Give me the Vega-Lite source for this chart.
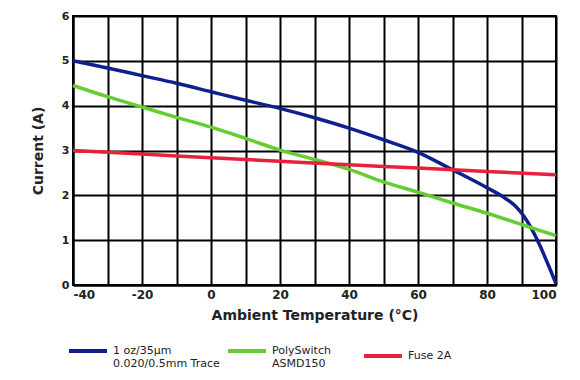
{
  "$schema": "https://vega.github.io/schema/vega-lite/v6.json",
  "width": 483,
  "height": 269,
  "autosize": {"type": "none"},
  "padding": {"left": 73, "top": 16, "right": 24, "bottom": 95},
  "background": "white",
  "config": {
    "font": "DejaVu Sans",
    "view": {"stroke": "black", "strokeWidth": 2}
  },
  "data": {
    "values": [
      {"t": -40, "c": 5.0, "s": "trace"},
      {"t": -30, "c": 4.84, "s": "trace"},
      {"t": -20, "c": 4.67, "s": "trace"},
      {"t": -10, "c": 4.5, "s": "trace"},
      {"t": 0, "c": 4.31, "s": "trace"},
      {"t": 10, "c": 4.12, "s": "trace"},
      {"t": 20, "c": 3.94, "s": "trace"},
      {"t": 30, "c": 3.73, "s": "trace"},
      {"t": 40, "c": 3.5, "s": "trace"},
      {"t": 50, "c": 3.24, "s": "trace"},
      {"t": 60, "c": 2.96, "s": "trace"},
      {"t": 70, "c": 2.57, "s": "trace"},
      {"t": 80, "c": 2.17, "s": "trace"},
      {"t": 85, "c": 1.95, "s": "trace"},
      {"t": 89, "c": 1.7, "s": "trace"},
      {"t": 91, "c": 1.5, "s": "trace"},
      {"t": 100, "c": 0.03, "s": "trace"},
      {"t": -40, "c": 4.45, "s": "poly"},
      {"t": -30, "c": 4.2, "s": "poly"},
      {"t": -20, "c": 3.97, "s": "poly"},
      {"t": -10, "c": 3.74, "s": "poly"},
      {"t": 0, "c": 3.52, "s": "poly"},
      {"t": 10, "c": 3.27, "s": "poly"},
      {"t": 20, "c": 3.01, "s": "poly"},
      {"t": 30, "c": 2.8, "s": "poly"},
      {"t": 40, "c": 2.58, "s": "poly"},
      {"t": 50, "c": 2.3, "s": "poly"},
      {"t": 60, "c": 2.07, "s": "poly"},
      {"t": 70, "c": 1.83, "s": "poly"},
      {"t": 80, "c": 1.6, "s": "poly"},
      {"t": 90, "c": 1.35, "s": "poly"},
      {"t": 100, "c": 1.1, "s": "poly"},
      {"t": -40, "c": 3.0, "s": "fuse"},
      {"t": -20, "c": 2.92, "s": "fuse"},
      {"t": 0, "c": 2.84, "s": "fuse"},
      {"t": 20, "c": 2.76, "s": "fuse"},
      {"t": 40, "c": 2.68, "s": "fuse"},
      {"t": 60, "c": 2.61, "s": "fuse"},
      {"t": 80, "c": 2.53, "s": "fuse"},
      {"t": 100, "c": 2.46, "s": "fuse"}
    ]
  },
  "mark": {"type": "line", "strokeWidth": 3.5, "interpolate": "monotone"},
  "encoding": {
    "x": {
      "field": "t", "type": "quantitative",
      "scale": {"domain": [-40, 100], "nice": false, "zero": false},
      "axis": {
        "title": "Ambient Temperature (°C)",
        "values": [-40, -30, -20, -10, 0, 10, 20, 30, 40, 50, 60, 70, 80, 90, 100],
        "labelExpr": "datum.value % 20 == 0 ? toString(datum.value) : ''",
        "grid": true, "gridColor": "black", "gridWidth": 2, "gridOpacity": 1,
        "domainColor": "black", "domainWidth": 2,
        "ticks": false, "labelPadding": 4,
        "labelFont": "DejaVu Sans", "labelFontSize": 12, "labelFontWeight": "bold", "labelColor": "#222",
        "titleFont": "DejaVu Sans", "titleFontSize": 14, "titleFontWeight": "bold", "titleColor": "#222", "titlePadding": 8
      }
    },
    "y": {
      "field": "c", "type": "quantitative",
      "scale": {"domain": [0, 6], "nice": false},
      "axis": {
        "title": "Current (A)",
        "values": [0, 1, 2, 3, 4, 5, 6],
        "grid": true, "gridColor": "black", "gridWidth": 2, "gridOpacity": 1,
        "domainColor": "black", "domainWidth": 2,
        "ticks": false, "labelPadding": 4,
        "labelFont": "DejaVu Sans", "labelFontSize": 11, "labelFontWeight": "bold", "labelColor": "#222",
        "titleFont": "DejaVu Sans", "titleFontSize": 14, "titleFontWeight": "bold", "titleColor": "#222", "titlePadding": 16
      }
    },
    "color": {
      "field": "s", "type": "nominal",
      "scale": {"domain": ["trace", "poly", "fuse"], "range": ["#0f1f8f", "#66cc33", "#e8203c"]},
      "legend": {
        "orient": "none", "legendX": -6, "legendY": 314,
        "direction": "horizontal", "title": null,
        "symbolType": "stroke", "symbolSize": 1444, "symbolStrokeWidth": 4,
        "labelExpr": "datum.value == 'trace' ? ['1 oz/35µm', '0.020/0.5mm Trace'] : datum.value == 'poly' ? ['PolySwitch\u2800\u2800\u2800', 'ASMD150'] : 'Fuse 2A'",
        "labelFont": "DejaVu Sans", "labelFontSize": 11, "labelColor": "#222",
        "columnPadding": 0, "labelOffset": 4, "labelLimit": 200
      }
    }
  }
}
